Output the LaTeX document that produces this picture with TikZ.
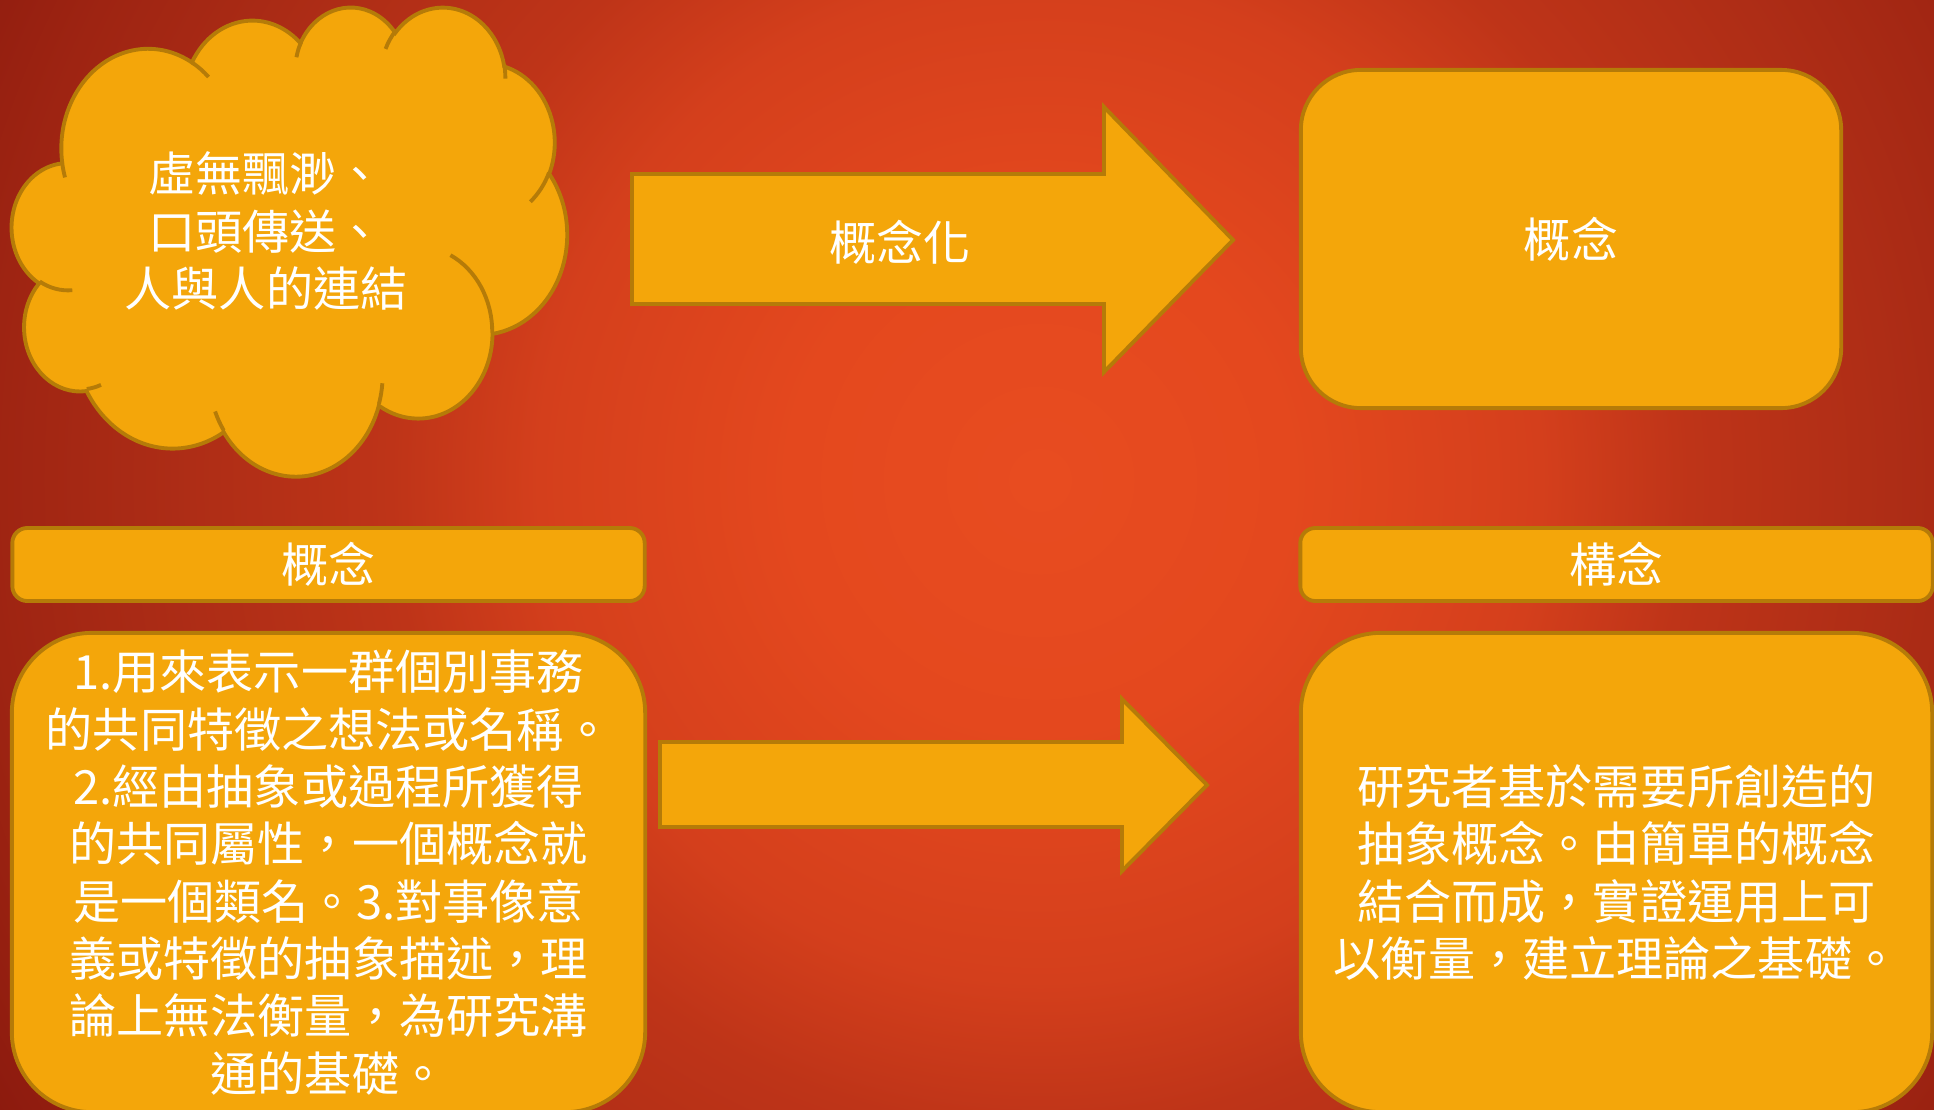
\documentclass[tikz,border=0pt]{standalone}
\usepackage{fontspec}
\setmainfont{Noto Sans CJK TC}
\definecolor{boxfill}{HTML}{F4A60A}
\definecolor{boxedge}{HTML}{B57B08}
\definecolor{bgcentre}{HTML}{E84C20}
\definecolor{bgnear}{HTML}{E4481E}
\definecolor{bgmid}{HTML}{D43F1C}
\definecolor{bgmid2}{HTML}{BE3418}
\definecolor{bgouter}{HTML}{AE2D16}
\definecolor{bgouter2}{HTML}{9E2412}
\definecolor{bgcorner}{HTML}{8C1A0E}
% stops in bp at natural size (1px of the slide = 0.2835bp)
\pgfdeclareradialshading{slideglow}{\pgfpoint{0bp}{0bp}}{color(0bp)=(bgcentre); color(71bp)=(bgnear); color(142bp)=(bgmid); color(184bp)=(bgmid2); color(241bp)=(bgouter); color(298bp)=(bgouter2); color(346bp)=(bgcorner)}
\tikzset{
  panel/.style={draw=boxedge, line width=1.1pt, fill=boxfill},
  words/.style={text=white, font=\fontsize{13.4pt}{16.3pt}\selectfont, align=center, inner sep=0pt},
  roundbox/.style={panel, words, rounded corners=0.8cm},
  headbar/.style={panel, words, rounded corners=0.15cm, minimum width=6.32cm, minimum height=0.73cm},
}
\begin{document}
\begin{tikzpicture}[x=0.01cm, y=-0.01cm]
        \useasboundingbox (0,0) rectangle (1934,1109);
        \clip (0,0) rectangle (1934,1109);
        \fill[bgcorner] (0,0) rectangle (1934,1109);
        \node[inner sep=0pt] (glow) at (1040,480) {\pgfuseshading{slideglow}};

        % cloud, puffs given as ellipse radii / start angle / sweep
        \begin{scope}[shift={(12,6)}, xscale=12.847, yscale=10.856]
             \draw[panel] (3.9,14.37)
                  \foreach \rx/\ry/\st/\sw in {6.753/9.190/-190.4875/123.7805, 5.333/7.267/-144.1024/89.9452,
                       4.365/5.945/-145.8079/99.7230, 4.857/6.595/-130.9861/117.2417, 5.333/7.273/-78.7089/109.0269,
                       6.775/9.220/-46.2673/130.2690, 5.785/7.867/0.6250/114.0333, 6.752/9.215/22.4516/115.1726,
                       7.720/10.543/66.2426/75.7110, 4.360/5.918/-274.9421/146.7356, 4.345/5.945/-246.8285/152.5189} {
                  arc[x radius=\rx, y radius=\ry, start angle={atan2(\rx*sin(\st),\ry*cos(\st))},
                      delta angle={mod(atan2(\rx*sin(\st+\sw),\ry*cos(\st+\sw))-atan2(\rx*sin(\st),\ry*cos(\st))+720,360)}]
                  } -- cycle;
             \foreach \px/\py/\rx/\ry/\st/\sw in {4.693/26.177/4.345/5.945/86.742/26.4295, 6.928/34.899/4.360/5.918/73.6105/11.4475,
                  16.478/39.090/6.752/9.215/137.6242/14.0811, 28.827/34.751/6.752/9.215/6.4533/15.9984,
                  34.129/22.954/5.785/7.867/-70.2924/70.9174, 41.798/15.354/5.333/7.273/30.3180/27.7515,
                  38.324/5.426/4.857/6.595/-13.7443/14.8589, 29.078/3.952/4.857/6.595/-149.1815/18.1954,
                  22.141/4.720/4.365/5.945/-163.4943/17.6864, 14.0/5.192/6.753/9.190/-66.707/12.3,
                  4.127/15.789/6.753/9.190/157.6/11.9} {
                  \draw[boxedge, line width=1.1pt] (\px,\py)
                       arc[x radius=\rx, y radius=\ry, start angle={atan2(\rx*sin(\st),\ry*cos(\st))},
                           delta angle={mod(atan2(\rx*sin(\st+\sw),\ry*cos(\st+\sw))-atan2(\rx*sin(\st),\ry*cos(\st))+720,360)}];
             }
        \end{scope}
        \node[words] (cloudtext) at (266,231) {虛無飄渺、\\口頭傳送、\\人與人的連結};

        % top arrow and box
        \draw[panel] (632,174) -- (1104,174) -- (1104,107) -- (1233,240) -- (1104,372) -- (1104,304) -- (632,304) -- cycle;
        \node[words] (conceptualise) at (900,242) {概念化};
        \node[roundbox, rounded corners=0.6cm, minimum width=5.40cm, minimum height=3.38cm] (concept) at (1571,239) {概念};

        % lower half
        \node[headbar] (concepthead) at (328.5,564.5) {概念};
        \node[headbar] (constructhead) at (1616.5,564.5) {構念};
        \node[roundbox, minimum width=6.33cm, minimum height=4.79cm] (conceptbody) at (328.5,872.5)
             {1.用來表示一群個別事務\\的共同特徵之想法或名稱。\\2.經由抽象或過程所獲得\\的共同屬性，一個概念就\\是一個類名。3.對事像意\\義或特徵的抽象描述，理\\論上無法衡量，為研究溝\\通的基礎。};
        \node[roundbox, minimum width=6.31cm, minimum height=4.79cm] (constructbody) at (1616.5,872.5)
             {研究者基於需要所創造的\\抽象概念。由簡單的概念\\結合而成，實證運用上可\\以衡量，建立理論之基礎。};
        \draw[panel] (660,742) -- (1122,742) -- (1122,699) -- (1207,785) -- (1122,871) -- (1122,827) -- (660,827) -- cycle;
\end{tikzpicture}
\end{document}
